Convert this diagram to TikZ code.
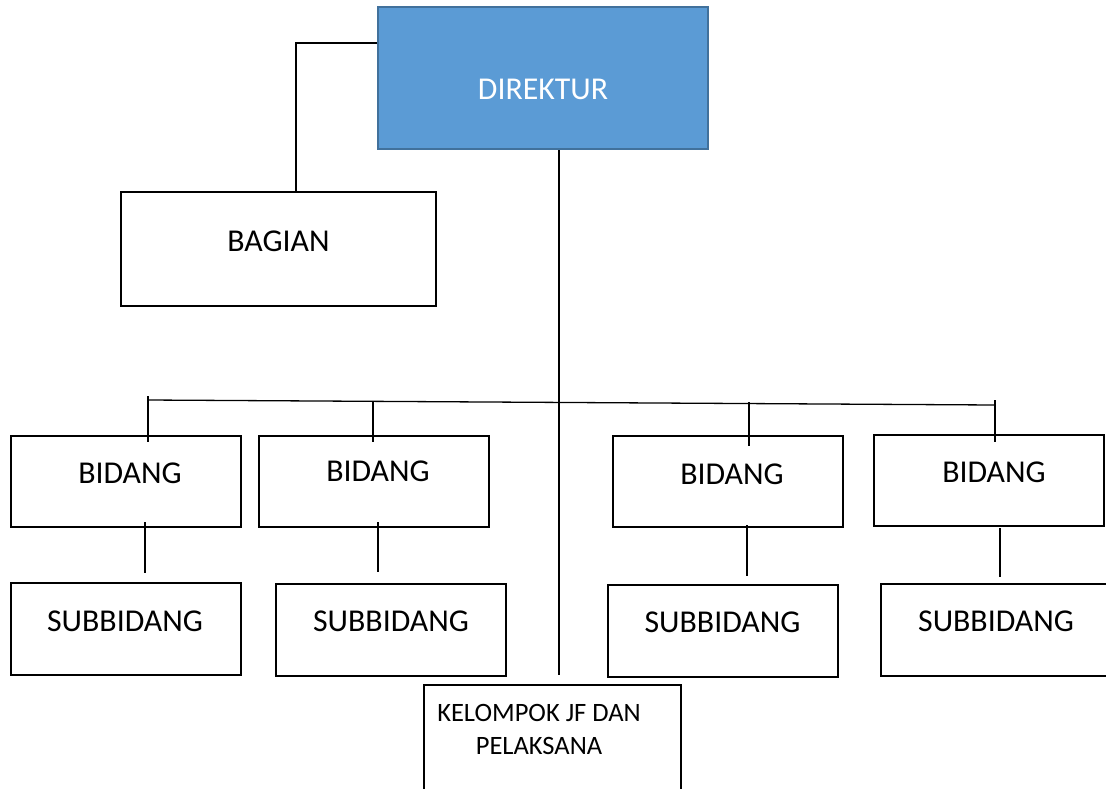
\documentclass[tikz,border=0pt]{standalone}
\usepackage{fontspec}
\setmainfont{Carlito}
\usetikzlibrary{calc}
\definecolor{dirfill}{HTML}{5B9BD5}
\definecolor{dirline}{HTML}{41719C}
\begin{document}
\begin{tikzpicture}[x=1pt,y=-1pt,
  box/.style={draw=black,line width=2pt,fill=white,inner sep=0pt,minimum width=#1},
  box/.default=230pt,
  lbl/.style={font=\fontsize{31.8}{36}\selectfont,inner sep=0pt},
  conn/.style={draw=black,line width=1.3pt}]
\clip (0,0) rectangle (1106,788);
\fill[white] (0,0) rectangle (1106,788);
% boxes
\node[draw=dirline,fill=dirfill,line width=2pt,inner sep=0pt,minimum width=330pt,minimum height=142pt] (dir) at (543,78) {};
\node[lbl,text=white] at ($(dir.center)+(0,11)$) {DIREKTUR};
\node[box=315pt,minimum height=114pt] (bag) at (278.5,249) {};
\node[lbl] at ($(bag.center)+(0,-8)$) {BAGIAN};
\node[box,minimum height=91pt] (b1) at (126,481.5) {};
\node[box,minimum height=91pt] (b2) at (374,481.5) {};
\node[box,minimum height=91pt] (b3) at (728,481.5) {};
\node[box,minimum height=91pt] (b4) at (989,480.5) {};
\node[lbl] at ($(b1.center)+(4,-8.5)$) {BIDANG};
\node[lbl] at ($(b2.center)+(4,-10.5)$) {BIDANG};
\node[lbl] at ($(b3.center)+(4,-7.5)$) {BIDANG};
\node[lbl] at ($(b4.center)+(5,-8.5)$) {BIDANG};
\node[box,minimum height=92pt] (s1) at (126,629) {};
\node[box,minimum height=92pt] (s2) at (391,630) {};
\node[box,minimum height=92pt] (s3) at (722.5,631) {};
\node[box,minimum height=92pt] (s4) at (996,629.5) {};
\node[lbl] at ($(s1.center)+(-1,-8)$) {SUBBIDANG};
\node[lbl] at ($(s2.center)+(0,-9)$) {SUBBIDANG};
\node[lbl] at ($(s3.center)+(0,-9)$) {SUBBIDANG};
\node[lbl] at ($(s4.center)+(0,-8.5)$) {SUBBIDANG};
\node[box=257pt,minimum height=130pt] (kel) at (552.5,750) {};
\node[inner sep=0pt,align=center,font=\fontsize{26.5}{33}\selectfont] at ($(kel.north)+(-13.5,45.5)$) {KELOMPOK JF DAN\\PELAKSANA};
% connectors
\coordinate (trunkend) at (559,675);
\draw[conn] ($(dir.north west)+(0,37)$) -| ($(bag.north west)+(176,1)$);
\draw[conn] (dir.south -| trunkend) -- (trunkend);
\coordinate (barL) at (148,400);
\coordinate (barR) at (995,405);
\draw[conn] (barL) -- (barR);
\draw[conn] ($(b1.north)+(22,-39)$) -- ($(b1.north)+(22,7)$);
\draw[conn] ($(b2.north)+(-1,-34)$) -- ($(b2.north)+(-1,7)$);
\draw[conn] ($(b3.north)+(21,-33)$) -- ($(b3.north)+(21,11)$);
\draw[conn] ($(b4.north)+(6,-34)$) -- ($(b4.north)+(6,8)$);
\draw[conn] ($(b1.south)+(19,-6)$) -- ($(s1.north)+(19,-9)$);
\draw[conn] ($(b2.south)+(4,-6)$) -- ($(s2.north)+(-13,-11)$);
\draw[conn] ($(b3.south)+(19,-3)$) -- ($(s3.north)+(24.5,-8)$);
\draw[conn] ($(b4.south)+(11,1)$) -- ($(s4.north)+(4,-6)$);
\end{tikzpicture}
\end{document}
